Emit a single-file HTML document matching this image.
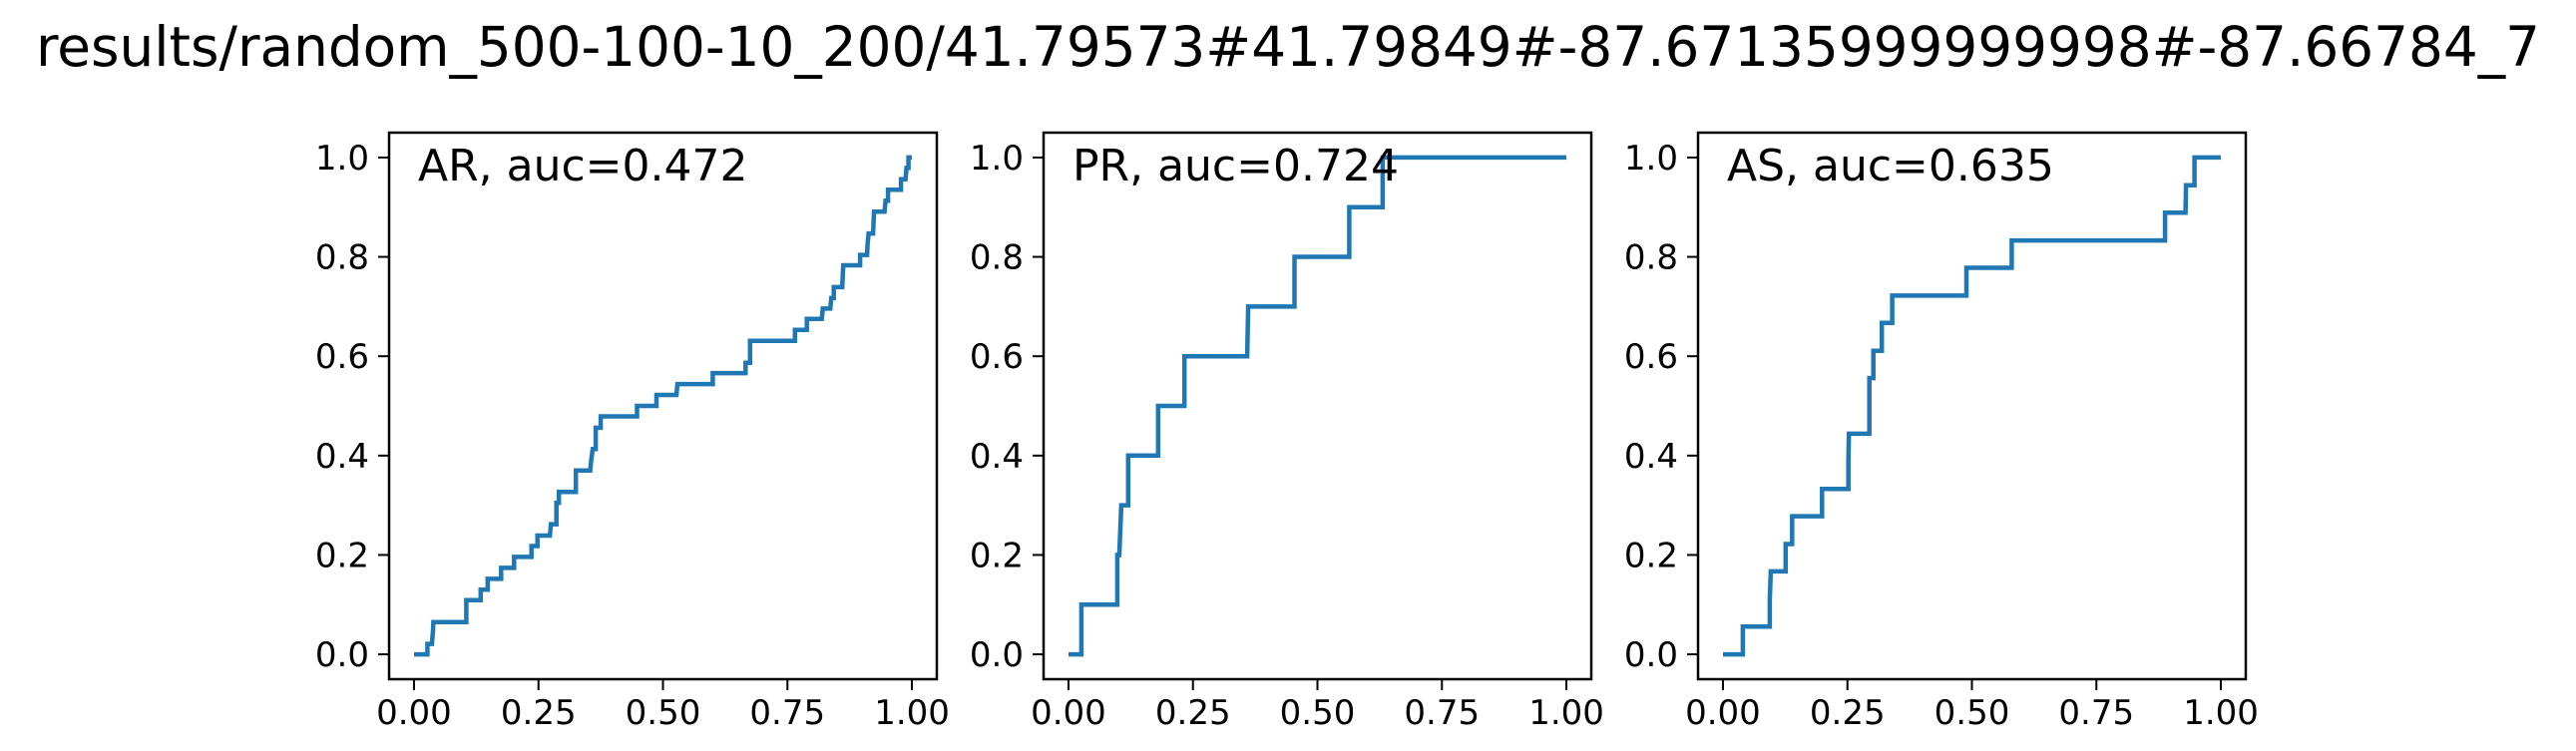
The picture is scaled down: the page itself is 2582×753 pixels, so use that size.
<!DOCTYPE html>
<html><head><meta charset="utf-8"><style>
body{margin:0;background:#fff;}
svg{display:block;font-family:"DejaVu Sans","Liberation Sans",sans-serif;}
</style></head><body>
<svg id="fig" width="2582" height="753" viewBox="0 0 2582 753">
<text x="1291" y="66" text-anchor="middle" font-size="54.8" fill="#000">results/random_500-100-10_200/41.79573#41.79849#-87.67135999999998#-87.66784_7</text>
</svg>
<script>
const xTicks=[0,0.25,0.5,0.75,1.0];
const xTickLabels=["0.00","0.25","0.50","0.75","1.00"];
const yTicks=[0,0.2,0.4,0.6,0.8,1.0];
const yTickLabels=["0.0","0.2","0.4","0.6","0.8","1.0"];
const panelNames=["AR","PR","AS"];
const aucValues=["0.472","0.724","0.635"];
const arFpr=[0,0.027,0.027,0.036,0.038,0.039,0.105,0.105,0.134,0.134,0.148,0.148,0.175,0.175,0.201,0.201,0.236,0.236,0.248,0.248,0.273,0.275,0.286,0.286,0.291,0.291,0.325,0.325,0.354,0.356,0.359,0.365,0.365,0.375,0.375,0.448,0.448,0.487,0.487,0.527,0.529,0.600,0.600,0.666,0.666,0.675,0.675,0.765,0.765,0.789,0.789,0.819,0.821,0.836,0.838,0.843,0.843,0.860,0.862,0.896,0.896,0.910,0.911,0.913,0.922,0.924,0.945,0.947,0.952,0.952,0.978,0.978,0.987,0.989,0.993,0.993,1];
const arTpr=[0,0,0.021,0.021,0.044,0.065,0.065,0.109,0.109,0.130,0.130,0.152,0.152,0.174,0.174,0.196,0.196,0.218,0.218,0.239,0.239,0.262,0.262,0.305,0.305,0.327,0.327,0.370,0.370,0.391,0.413,0.413,0.456,0.456,0.479,0.479,0.500,0.500,0.522,0.522,0.544,0.544,0.566,0.566,0.587,0.587,0.631,0.631,0.653,0.653,0.675,0.675,0.696,0.696,0.717,0.717,0.739,0.739,0.783,0.783,0.804,0.804,0.826,0.847,0.847,0.891,0.891,0.913,0.913,0.935,0.935,0.956,0.956,0.979,0.979,1,1];
const prFpr=[0,0.026,0.026,0.098,0.098,0.102,0.106,0.120,0.120,0.180,0.180,0.233,0.233,0.359,0.361,0.454,0.454,0.564,0.564,0.631,0.631,1];
const prTpr=[0,0,0.1,0.1,0.2,0.2,0.3,0.3,0.4,0.4,0.5,0.5,0.6,0.6,0.7,0.7,0.8,0.8,0.9,0.9,1,1];
const asFpr=[0,0.040,0.040,0.094,0.094,0.096,0.126,0.126,0.139,0.139,0.199,0.199,0.252,0.252,0.253,0.294,0.294,0.302,0.302,0.319,0.319,0.340,0.340,0.489,0.489,0.580,0.580,0.888,0.888,0.929,0.930,0.947,0.947,1];
const asTpr=[0,0,0.056,0.056,0.111,0.167,0.167,0.222,0.222,0.278,0.278,0.333,0.333,0.389,0.444,0.444,0.556,0.556,0.611,0.611,0.667,0.667,0.722,0.722,0.778,0.778,0.833,0.833,0.889,0.889,0.944,0.944,1,1];
const seriesX=[arFpr,prFpr,asFpr];
const seriesY=[arTpr,prTpr,asTpr];

const NS="http://www.w3.org/2000/svg";
const svg=document.getElementById('fig');
const panelLeft=[390,1046,1702], panelW=549;
const top_=133, bottom_=681;
function mk(tag,attrs,parent){const e=document.createElementNS(NS,tag);for(const k in attrs)e.setAttribute(k,attrs[k]);(parent||svg).appendChild(e);return e;}
for(let p=0;p<3;p++){
  const L=panelLeft[p],R=L+panelW;
  const xs=v=>L+(v+0.05)/1.1*(R-L);
  const ys=v=>bottom_-(v+0.05)/1.1*(bottom_-top_);
  const g=mk('g',{});
  
  
  const pts=seriesX[p].map((x,i)=>xs(x).toFixed(1)+','+ys(seriesY[p][i]).toFixed(1)).join(' ');
  const line=mk('polyline',{points:pts,fill:'none',stroke:'#1f77b4','stroke-width':4.5,'stroke-linejoin':'miter'},g);
  
  
  const frame=mk('rect',{x:L,y:top_,width:R-L,height:bottom_-top_,fill:'none',stroke:'#000','stroke-width':2.5},g);
  
  
  xTicks.forEach((t,i)=>{
    const x=xs(t);
    mk('line',{x1:x,x2:x,y1:bottom_,y2:bottom_+11,stroke:'#000','stroke-width':2},g);
    const tx=mk('text',{x:x,y:726,'text-anchor':'middle','font-size':34,fill:'#000'},g);
    tx.textContent=xTickLabels[i];
    
    
  });
  yTicks.forEach((t,i)=>{
    const y=ys(t);
    mk('line',{x1:L-11,x2:L,y1:y,y2:y,stroke:'#000','stroke-width':2},g);
    const tx=mk('text',{x:L-20,y:y+12,'text-anchor':'end','font-size':34,fill:'#000'},g);
    tx.textContent=yTickLabels[i];
    
    
  });
  const ann=mk('text',{x:L+29,y:181,'font-size':44,fill:'#000'},g);
  ann.textContent=panelNames[p]+', auc='+aucValues[p];
  
  
}
</script>
</body></html>
